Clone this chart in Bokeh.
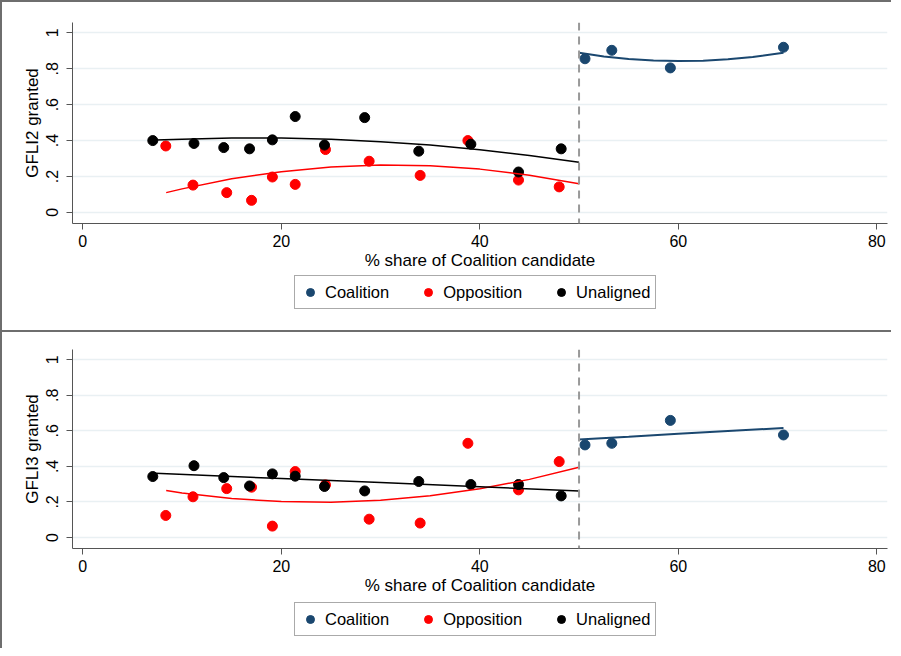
from bokeh.plotting import figure
from bokeh.layouts import column
from bokeh.models import Span, Legend, LegendItem, FixedTicker, Range1d
from bokeh.embed import file_html
from bokeh.resources import INLINE

# ---------------- data ----------------
x_ticks = [0, 20, 40, 60, 80]
y_ticks = [0, 0.2, 0.4, 0.6, 0.8, 1]
y_tick_labels = ["0", ".2", ".4", ".6", ".8", "1"]
threshold = 50
x_title = "% share of Coalition candidate"
series_names = ["Coalition", "Opposition", "Unaligned"]

coal_x = [50.6, 53.3, 59.2, 70.6]
opp_x = [8.36, 11.1, 14.5, 17.0, 19.1, 21.4, 24.45, 28.85, 33.99, 38.8, 43.9, 48.0]
unal_x = [7.05, 11.2, 14.2, 16.8, 19.1, 21.4, 24.35, 28.4, 33.85, 39.1, 43.9, 48.2]

# GFLI2
coal_y2 = [0.856, 0.903, 0.805, 0.92]
opp_y2 = [0.37, 0.152, 0.11, 0.067, 0.197, 0.156, 0.35, 0.285, 0.206, 0.40, 0.18, 0.142]
unal_y2 = [0.40, 0.384, 0.361, 0.354, 0.404, 0.534, 0.375, 0.528, 0.341, 0.38, 0.225, 0.354]

fit2_coal_x = [50, 52.5, 55, 57.5, 60, 62.5, 65, 67.5, 70.6]
fit2_coal_y = [0.889, 0.869, 0.855, 0.846, 0.843, 0.845, 0.853, 0.866, 0.889]
fit2_opp_x = [8.4, 10, 15, 20, 25, 30, 35, 40, 45, 50]
fit2_opp_y = [0.110, 0.131, 0.187, 0.227, 0.253, 0.264, 0.260, 0.241, 0.207, 0.159]
fit2_unal_x = [7.3, 10, 15, 20, 25, 30, 35, 40, 45, 50]
fit2_unal_y = [0.403, 0.408, 0.414, 0.414, 0.407, 0.394, 0.375, 0.349, 0.317, 0.279]

# GFLI3
coal_y3 = [0.521, 0.53, 0.659, 0.577]
opp_y3 = [0.124, 0.229, 0.275, 0.283, 0.064, 0.371, 0.296, 0.103, 0.081, 0.53, 0.268, 0.427]
unal_y3 = [0.343, 0.404, 0.337, 0.290, 0.358, 0.345, 0.287, 0.262, 0.315, 0.298, 0.298, 0.234]

fit3_coal_x = [50, 55, 60, 65, 70.6]
fit3_coal_y = [0.551, 0.567, 0.584, 0.600, 0.616]
fit3_opp_x = [8.4, 10, 15, 20, 25, 30, 35, 40, 45, 50]
fit3_opp_y = [0.264, 0.251, 0.219, 0.202, 0.199, 0.210, 0.235, 0.274, 0.327, 0.395]
fit3_unal_x = [7.3, 20, 30, 40, 50]
fit3_unal_y = [0.361, 0.332, 0.309, 0.286, 0.262]

# ---------------- style ----------------
FONT = "Liberation Sans"
C_COAL = "#1a476f"
C_OPP = "#ff0000"
C_UNAL = "#000000"
COLORS = [C_COAL, C_OPP, C_UNAL]
BORDER = "#6e6e6e"
W = 891


def main_panel(ylabel, cy, oy, uy, fits, height, top, bottom, css):
    p = figure(width=W, height=height, output_backend="svg", toolbar_location=None,
               x_range=Range1d(-1.04, 81.08), y_range=Range1d(-0.062, 1.058),
               min_border_left=70, min_border_right=6,
               min_border_top=top, min_border_bottom=bottom,
               outline_line_color=None, background_fill_color="white",
               border_fill_color="white")
    p.styles = css
    p.xgrid.grid_line_color = None
    p.ygrid.grid_line_color = "#e9f0f3"
    p.ygrid.grid_line_width = 1.5
    p.ygrid.ticker = FixedTicker(ticks=y_ticks)

    p.xaxis.ticker = FixedTicker(ticks=x_ticks)
    p.yaxis.ticker = FixedTicker(ticks=y_ticks)
    p.yaxis.major_label_overrides = {v: s for v, s in zip(y_ticks, y_tick_labels)}
    p.yaxis.major_label_orientation = "vertical"
    for ax in (p.xaxis, p.yaxis):
        ax.axis_line_color = "#555555"
        ax.major_tick_line_color = "#555555"
        ax.major_tick_out = 6
        ax.major_tick_in = 0
        ax.minor_tick_line_color = None
        ax.major_label_text_font = FONT
        ax.major_label_text_font_size = "16px"
        ax.major_label_text_color = "#000000"
        ax.axis_label_text_font = FONT
        ax.axis_label_text_font_size = "17px"
        ax.axis_label_text_font_style = "normal"
        ax.axis_label_text_color = "#000000"
    p.xaxis.axis_label = x_title
    p.xaxis.axis_label_standoff = 1
    p.xaxis.major_label_standoff = 5
    p.yaxis.axis_label = ylabel
    p.yaxis.axis_label_standoff = 2
    p.yaxis.major_label_standoff = 8

    p.add_layout(Span(location=threshold, dimension="height", line_color="#999999",
                      line_width=2, line_dash="8 6"))

    p.scatter(coal_x, cy, size=10, color=C_COAL)
    p.scatter(opp_x, oy, size=10, color=C_OPP)
    p.scatter(unal_x, uy, size=10, color=C_UNAL)

    (fcx, fcy), (fox, foy), (fux, fuy) = fits
    p.line(fcx, fcy, line_color=C_COAL, line_width=2)
    p.line(fox, foy, line_color=C_OPP, line_width=1.5)
    p.line(fux, fuy, line_color=C_UNAL, line_width=1.5)
    return p


def legend_panel(height, loc_y, css, series):
    # the same series are plotted here, outside the visible range, so the
    # legend can show their markers
    lp = figure(width=W, height=height, output_backend="svg", toolbar_location=None,
                x_range=Range1d(-20, -10), y_range=Range1d(-20, -10),
                x_axis_location=None, y_axis_location=None,
                min_border_left=0, min_border_right=0, min_border_top=0, min_border_bottom=0,
                outline_line_color=None, background_fill_color="white",
                border_fill_color="white")
    lp.styles = css
    lp.xgrid.visible = False
    lp.ygrid.visible = False
    items = []
    for name, col, (sx, sy) in zip(series_names, COLORS, series):
        r = lp.scatter(sx, sy, size=9, color=col)
        items.append(LegendItem(label=name, renderers=[r]))
    leg = Legend(items=items, orientation="horizontal", location=(222, loc_y),
                 label_text_font=FONT, label_text_font_size="16.5px",
                 label_text_color="#000000",
                 glyph_width=20, glyph_height=22, label_height=22,
                 label_standoff=5, spacing=29, padding=5, margin=0,
                 border_line_color="#555555", border_line_width=1.5,
                 background_fill_color="white")
    lp.add_layout(leg)
    return lp


p1 = main_panel("GFLI2 granted", coal_y2, opp_y2, unal_y2,
                [(fit2_coal_x, fit2_coal_y), (fit2_opp_x, fit2_opp_y), (fit2_unal_x, fit2_unal_y)],
                height=272, top=20, bottom=51,
                css={"border-top": f"2px solid {BORDER}", "border-left": f"2px solid {BORDER}"})
l1 = legend_panel(60, 23, {"border-left": f"2px solid {BORDER}",
                           "border-bottom": f"2px solid {BORDER}"},
                  [(coal_x, coal_y2), (opp_x, opp_y2), (unal_x, unal_y2)])
p2 = main_panel("GFLI3 granted", coal_y3, opp_y3, unal_y3,
                [(fit3_coal_x, fit3_coal_y), (fit3_opp_x, fit3_opp_y), (fit3_unal_x, fit3_unal_y)],
                height=267, top=17, bottom=51,
                css={"border-left": f"2px solid {BORDER}"})
l2 = legend_panel(49, 12, {"border-left": f"2px solid {BORDER}"},
                  [(coal_x, coal_y3), (opp_x, opp_y3), (unal_x, unal_y3)])

layout = column(p1, l1, p2, l2, spacing=0)
open("out.html", "w").write(file_html(layout, INLINE))
